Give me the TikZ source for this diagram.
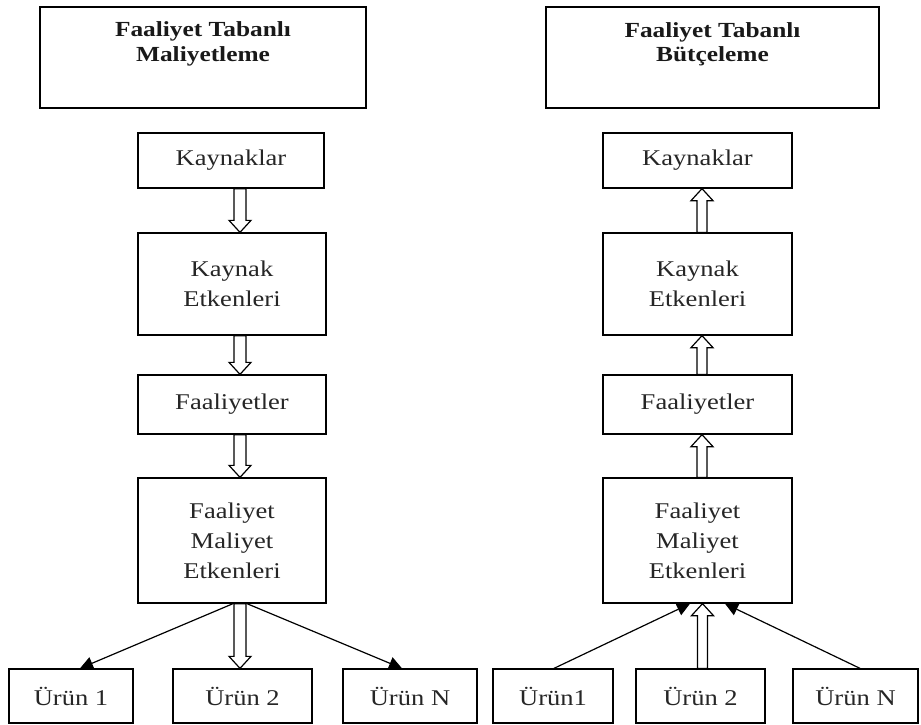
\documentclass[tikz,border=0pt]{standalone}
\usepackage{fontspec}
\setmainfont{Liberation Serif}[FakeStretch=1.18]
\usetikzlibrary{arrows.meta,calc}

% hollow block arrows between two vertically aligned points
\newcommand\blockdown[2]{%
  \draw[blockarr] let \p1=(#1), \p2=(#2) in
    (\x1-6pt,\y1) -- (\x1-6pt,\y2+12pt) -- (\x1-11pt,\y2+12pt) -- (\x1,\y2)
    -- (\x1+11pt,\y2+12pt) -- (\x1+6pt,\y2+12pt) -- (\x1+6pt,\y1) -- cycle;}
\newcommand\blockup[2]{%
  \draw[blockarr] let \p1=(#1), \p2=(#2) in
    (\x1-5pt,\y1) -- (\x1-5pt,\y2-12pt) -- (\x1-11pt,\y2-12pt) -- (\x1,\y2)
    -- (\x1+11pt,\y2-12pt) -- (\x1+5pt,\y2-12pt) -- (\x1+5pt,\y1) -- cycle;}

\tikzset{
  box/.style={draw=black, line width=1.3pt, fill=white, inner sep=0pt,
    align=center, font=\fontsize{22.5}{30}\selectfont, text=black!85},
  twoline/.style={text depth=10pt},
  titlebox/.style={draw=black, line width=1.3pt, inner sep=0pt},
  titletext/.style={align=center, font=\fontsize{21.5}{24.5}\selectfont\bfseries, text=black!90},
  blockarr/.style={draw=black, line width=1.2pt, fill=white},
  thin/.style={draw=black, line width=1.2pt, -{Triangle[length=13pt,width=13pt]}}
}

\begin{document}
\begin{tikzpicture}[x=1pt,y=-1pt]
\useasboundingbox (0,0) rectangle (921,724);

% titles
\node[titlebox, minimum width=326pt, minimum height=101pt] (t1) at (203,57.5) {};
\node[titletext] (t1txt) at (203,44) {Faaliyet Tabanlı\\Maliyetleme};
\node[titlebox, minimum width=333pt, minimum height=101pt] (t2) at (712.5,57.5) {};
\node[titletext] (t2txt) at (712.5,44) {Faaliyet Tabanlı\\Bütçeleme};

% left column
\node[box, minimum width=186pt, minimum height=55pt] (k1) at (231,160.5) {Kaynaklar};
\node[box, minimum width=188pt, minimum height=102pt] (ke1) at (232,284) {Kaynak\\Etkenleri};
\node[box, minimum width=188pt, minimum height=59pt] (f1) at (232,404.5) {Faaliyetler};
\node[box, minimum width=188pt, minimum height=125pt] (fme1) at (232,540.5) {Faaliyet\\Maliyet\\Etkenleri};
\node[box, minimum width=124pt, minimum height=54pt] (u11) at (71,696) {Ürün 1};
\node[box, minimum width=139pt, minimum height=54pt] (u12) at (242.5,696) {Ürün 2};
\node[box, minimum width=134pt, minimum height=54pt] (u1n) at (410,696) {Ürün N};

% right column
\node[box, minimum width=189pt, minimum height=55pt] (k2) at (697.5,160.5) {Kaynaklar};
\node[box, minimum width=189pt, minimum height=102pt] (ke2) at (697.5,284) {Kaynak\\Etkenleri};
\node[box, minimum width=189pt, minimum height=59pt] (f2) at (697.5,404.5) {Faaliyetler};
\node[box, minimum width=189pt, minimum height=125pt] (fme2) at (697.5,540.5) {Faaliyet\\Maliyet\\Etkenleri};
\node[box, minimum width=120pt, minimum height=54pt] (u21) at (553,696) {Ürün1};
\node[box, minimum width=129pt, minimum height=54pt] (u22) at (700.5,696) {Ürün 2};
\node[box, minimum width=125pt, minimum height=54pt] (u2n) at (855.5,696) {Ürün N};

% left: costing flows downwards
\blockdown{[xshift=9pt]k1.south}{[xshift=8pt]ke1.north}
\blockdown{[xshift=8pt]ke1.south}{[xshift=8pt]f1.north}
\blockdown{[xshift=8pt]f1.south}{[xshift=8pt]fme1.north}
\blockdown{[xshift=8pt]fme1.south}{[xshift=-2.5pt]u12.north}
\draw[thin] ([xshift=1pt]fme1.south) -- ([xshift=9pt]u11.north);
\draw[thin] ([xshift=15pt]fme1.south) -- ([xshift=-8pt]u1n.north);

% right: budgeting flows upwards
\blockup{[xshift=4.5pt]ke2.north}{[xshift=4.5pt]k2.south}
\blockup{[xshift=4.5pt]f2.north}{[xshift=4.5pt]ke2.south}
\blockup{[xshift=4.5pt]fme2.north}{[xshift=4.5pt]f2.south}
\blockup{[xshift=2pt]u22.north}{[xshift=4.5pt]fme2.south}
\draw[thin] ([xshift=1pt]u21.north) -- ([xshift=-7.5pt]fme2.south);
\draw[thin] ([xshift=4.5pt]u2n.north) -- ([xshift=27.5pt]fme2.south);
\end{tikzpicture}
\end{document}
